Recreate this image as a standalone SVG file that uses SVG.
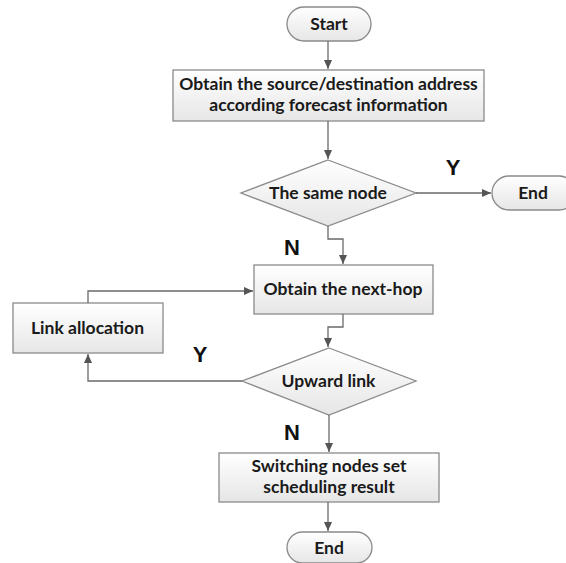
<svg xmlns="http://www.w3.org/2000/svg" width="566" height="563" viewBox="0 0 566 563">
<defs>
<linearGradient id="g" x1="0" y1="0" x2="0" y2="1"><stop offset="0" stop-color="#ffffff"/><stop offset="1" stop-color="#e6e6e6"/></linearGradient>
<marker id="a" markerWidth="10" markerHeight="8" refX="9" refY="4" orient="auto" markerUnits="userSpaceOnUse"><path d="M0,0 L9,4 L0,8 Z" fill="#555"/></marker>
<style>
.s{fill:url(#g);stroke:#8a8a8a;stroke-width:1.3}
.t{font-family:Lato,"Open Sans",sans-serif;font-weight:bold;font-size:17.5px;fill:#1a1a1a;text-anchor:middle}
.l{font-family:"Liberation Sans",Arial,sans-serif;font-weight:bold;font-size:22px;fill:#111;text-anchor:middle}
.c{fill:none;stroke:#6a6a6a;stroke-width:1.3;marker-end:url(#a)}
</style>
</defs>
<rect width="566" height="563" fill="#fff"/>
<g id="start"><rect class="s" x="287" y="7" width="84" height="34" rx="17"/><text class="t" x="329" y="30">Start</text></g>
<g id="obtain"><rect class="s" x="173" y="70" width="311" height="51"/><text class="t" x="328.5" y="90">Obtain the source/destination address</text><text class="t" x="328.5" y="111">according forecast information</text></g>
<g id="same"><polygon class="s" points="328,160 416,193 328,226 241,193"/><text class="t" x="328" y="199">The same node</text></g>
<g id="end1"><rect class="s" x="492" y="176" width="84" height="34" rx="17"/><text class="t" x="533" y="199">End</text></g>
<g id="nexthop"><rect class="s" x="254" y="265" width="179" height="49"/><text class="t" x="343" y="295">Obtain the next-hop</text></g>
<g id="link"><rect class="s" x="13" y="303" width="150" height="50"/><text class="t" x="87.5" y="334">Link allocation</text></g>
<g id="upward"><polygon class="s" points="329,348 416,381 329,415 242,381"/><text class="t" x="328.5" y="387">Upward link</text></g>
<g id="switch"><rect class="s" x="219" y="453" width="220" height="49"/><text class="t" x="329" y="472">Switching nodes set</text><text class="t" x="329" y="493">scheduling result</text></g>
<g id="end2"><rect class="s" x="287" y="532" width="85" height="31" rx="15.5"/><text class="t" x="329" y="554">End</text></g>
<g id="connectors">
<path class="c" d="M328,41 V69"/>
<path class="c" d="M328,121 V159"/>
<path class="c" d="M416,193 H491"/>
<path class="c" d="M328,226 V239 H343 V264"/>
<path class="c" d="M343,314 V327 H328 V347"/>
<path class="c" d="M242,381 H88 V354"/>
<path class="c" d="M88,303 V291 H253"/>
<path class="c" d="M329,415 V452"/>
<path class="c" d="M328,502 V531"/>
</g>
<g id="labels">
<text class="l" x="453" y="175">Y</text>
<text class="l" x="292" y="255">N</text>
<text class="l" x="200" y="362">Y</text>
<text class="l" x="292" y="440">N</text>
</g>
</svg>
